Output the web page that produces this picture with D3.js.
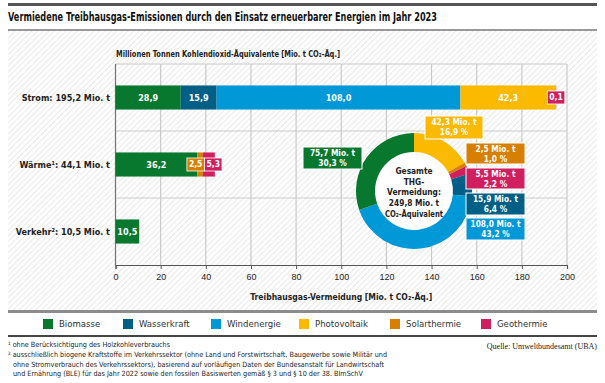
<!DOCTYPE html>
<html>
<head>
<meta charset="utf-8">
<script src="https://cdn.jsdelivr.net/npm/d3@7"></script>
<style>
	body { margin: 0; background: #fff; }
	svg { display: block; font-family: 'DejaVu Sans Condensed', 'DejaVu Sans', sans-serif; }
</style>
</head>
<body>
<div id="chart"></div>
<script>
const width = 605
const height = 383

// sectors (rows) and their totals as printed
const sectors = ['Strom', 'Wärme', 'Verkehr']
const sectorLabels = ['Strom: 195,2 Mio. t', 'Wärme¹: 44,1 Mio. t', 'Verkehr²: 10,5 Mio. t']

const sources = ['Biomasse', 'Wasserkraft', 'Windenergie', 'Photovoltaik', 'Solarthermie', 'Geothermie']
const sourceColors = ['#08782f', '#005f86', '#0098d6', '#fbb900', '#d67f00', '#cf1f5f']

// Mio. t CO2-Äq. per sector and source (same order as sources)
const strom = [28.9, 15.9, 108.0, 42.3, 0, 0.1]
const waerme = [36.2, 0, 0, 0, 2.5, 5.3]
const verkehr = [10.5, 0, 0, 0, 0, 0]

// donut: totals per source, in clockwise order from 12 o'clock
const donutOrder = ['Photovoltaik', 'Solarthermie', 'Geothermie', 'Wasserkraft', 'Windenergie', 'Biomasse']
const donutValues = [42.3, 2.5, 5.5, 15.9, 108.0, 75.7]
const donutTotal = 249.8

const xTicks = [0, 20, 40, 60, 80, 100, 120, 140, 160, 180, 200]

const footnotes = [
	'¹ ohne Berücksichtigung des Holzkohleverbrauchs',
	'² ausschließlich biogene Kraftstoffe im Verkehrssektor (ohne Land und Forstwirtschaft, Baugewerbe sowie Militär und',
	'ohne Stromverbrauch des Verkehrssektors), basierend auf vorläufigen Daten der Bundesanstalt für Landwirtschaft',
	'und Ernährung (BLE) für das Jahr 2022 sowie den fossilen Basiswerten gemäß § 3 und § 10 der 38. BImSchV'
]

const de = d3.formatLocale({ decimal: ',', thousands: '.', grouping: [3], currency: ['', ' €'] })
const f1 = de.format('.1f')
const color = d3.scaleOrdinal(sources, sourceColors)

// squeeze a text to a maximum width (the original uses a condensed face)
function fit(sel, w) {
	sel.each(function () {
		if (this.getComputedTextLength() > w)
			d3.select(this).attr('textLength', w).attr('lengthAdjust', 'spacingAndGlyphs')
	})
}

const svg = d3.select('#chart').append('svg').attr('width', width).attr('height', height)

// hatched background
const pat = svg.append('defs').append('pattern')
	.attr('id', 'hatch')
	.attr('patternUnits', 'userSpaceOnUse')
	.attr('width', 4).attr('height', 4)
	.attr('patternTransform', 'rotate(45)')
pat.append('rect').attr('width', 4).attr('height', 4).attr('fill', '#fff')
pat.append('line').attr('x1', 0).attr('y1', 0).attr('x2', 0).attr('y2', 4)
	.attr('stroke', '#e4e4e4').attr('stroke-width', 1.6)

svg.append('rect').attr('x', 8).attr('y', 31).attr('width', 589).attr('height', 280).attr('fill', 'url(#hatch)')

svg.append('line').attr('x1', 8).attr('x2', 597).attr('y1', 4.5).attr('y2', 4.5).attr('stroke', '#555').attr('stroke-width', 3)
svg.append('line').attr('x1', 8).attr('x2', 597).attr('y1', 30).attr('y2', 30).attr('stroke', '#999').attr('stroke-width', 2)
svg.append('line').attr('x1', 8).attr('x2', 597).attr('y1', 311.5).attr('y2', 311.5).attr('stroke', '#8c8c8c').attr('stroke-width', 3)
svg.append('line').attr('x1', 8).attr('x2', 597).attr('y1', 336).attr('y2', 336).attr('stroke', '#444').attr('stroke-width', 2)

svg.append('text').attr('x', 8).attr('y', 21)
	.attr('font-size', 12.5).attr('font-weight', 'bold').attr('fill', '#111')
	.text('Vermiedene Treibhausgas-Emissionen durch den Einsatz erneuerbarer Energien im Jahr 2023')
	.call(fit, 429)

svg.append('text').attr('x', 116).attr('y', 57)
	.attr('font-size', 8.8).attr('font-weight', 'bold').attr('fill', '#222')
	.text('Millionen Tonnen Kohlendioxid-Äquivalente [Mio. t CO₂-Äq.]')
	.call(fit, 224)

// scales
const x = d3.scaleLinear().domain([0, 200]).range([115.5, 567])
const y = d3.scaleBand().domain(sectors).range([64, 265])
const barH = y.bandwidth() * 0.36

const grid = svg.append('g')
grid.selectAll('line.v').data(xTicks).enter().append('line')
	.attr('x1', (d) => x(d)).attr('x2', (d) => x(d))
	.attr('y1', 64).attr('y2', 265)
	.attr('stroke', '#c9c9c9').attr('stroke-width', 1.2)
grid.selectAll('line.h').data(sectors).enter().append('line')
	.attr('x1', x(0)).attr('x2', x(200))
	.attr('y1', (d) => y(d)).attr('y2', (d) => y(d))
	.attr('stroke', '#c9c9c9').attr('stroke-width', 1.2)
svg.append('line').attr('x1', x(0)).attr('x2', x(0)).attr('y1', 64).attr('y2', 265)
	.attr('stroke', '#777').attr('stroke-width', 1.2)

const xAxis = svg.append('g')
	.attr('transform', 'translate(0,265)')
	.call(d3.axisBottom(x).tickValues(xTicks).tickSize(4).tickFormat(d3.format('d')))
xAxis.select('.domain').attr('stroke', '#555').attr('stroke-width', 1.2)
xAxis.selectAll('.tick line').attr('stroke', '#555')
xAxis.selectAll('.tick text').attr('font-size', 9).attr('fill', '#222').attr('dy', '0.9em')
	.attr('font-family', null)

svg.append('text').attr('x', (x(0) + x(200)) / 2).attr('y', 300)
	.attr('text-anchor', 'middle').attr('font-size', 9).attr('font-weight', 'bold').attr('fill', '#222')
	.text('Treibhausgas-Vermeidung [Mio. t CO₂-Äq.]')
	.call(fit, 182)

// row labels
svg.selectAll('text.row').data(sectors).enter().append('text')
	.attr('x', 110).attr('y', (d) => y(d) + y.bandwidth() / 2)
	.attr('dy', '0.35em').attr('text-anchor', 'end')
	.attr('font-size', 9).attr('font-weight', 'bold').attr('fill', '#222')
	.text((d, i) => sectorLabels[i])

// stacked bars
const rows = [strom, waerme, verkehr].map((vals, r) => {
	let acc = 0
	const segs = []
	vals.forEach((v, i) => {
		if (v > 0) segs.push({ source: sources[i], v, x0: acc, x1: (acc += v) })
	})
	return { sector: sectors[r], segs }
})
const isSmall = (s) => x(s.x1) - x(s.x0) < 18

const barG = svg.selectAll('g.bar').data(rows).enter().append('g')
	.attr('transform', (d) => 'translate(0,' + (y(d.sector) + (y.bandwidth() - barH) / 2) + ')')

barG.selectAll('rect').data((d) => d.segs).enter().append('rect')
	.attr('x', (d) => x(d.x0)).attr('width', (d) => x(d.x1) - x(d.x0))
	.attr('height', barH).attr('fill', (d) => color(d.source))

barG.selectAll('text.in').data((d) => d.segs.filter((s) => !isSmall(s))).enter().append('text')
	.attr('x', (d) => (x(d.x0) + x(d.x1)) / 2).attr('y', barH / 2).attr('dy', '0.35em')
	.attr('text-anchor', 'middle').attr('font-size', 9).attr('font-weight', 'bold').attr('fill', '#fff')
	.text((d) => f1(d.v))

// small segments: coloured label boxes, pushed apart when they overlap
barG.each(function (row) {
	const small = row.segs.filter(isSmall)
	if (!small.length) return
	const g = d3.select(this)
	const boxes = small.map((s) => {
		const t = g.append('text').attr('font-size', 8.5).attr('font-weight', 'bold').text(f1(s.v))
		const w = t.node().getComputedTextLength() + 4
		t.remove()
		return { s, w, c: (x(s.x0) + x(s.x1)) / 2 }
	})
	for (let i = 1; i < boxes.length; i++) {
		const a = boxes[i - 1]
		const b = boxes[i]
		const ov = a.c + a.w / 2 - (b.c - b.w / 2)
		if (ov > 0) {
			a.c -= ov / 2
			b.c += ov / 2
		}
	}
	boxes.forEach((b) => {
		g.append('rect').attr('x', b.c - b.w / 2).attr('y', barH / 2 - 6.5)
			.attr('width', b.w).attr('height', 13)
			.attr('fill', color(b.s.source)).attr('stroke', '#fff').attr('stroke-width', 0.8)
		g.append('text').attr('x', b.c).attr('y', barH / 2).attr('dy', '0.35em')
			.attr('text-anchor', 'middle').attr('font-size', 8.5).attr('font-weight', 'bold').attr('fill', '#fff')
			.text(f1(b.s.v))
	})
})

// donut
const cx = 414
const cy = 191
const pie = d3.pie().sort(null).value((d) => d.v)
const arcs = pie(donutOrder.map((s, i) => ({ source: s, v: donutValues[i] })))
const arc = d3.arc().innerRadius(39).outerRadius(58)
const donut = svg.append('g').attr('transform', 'translate(' + cx + ',' + cy + ')')
donut.append('circle').attr('r', 39).attr('fill', '#fff')
donut.selectAll('path').data(arcs).enter().append('path')
	.attr('d', arc).attr('fill', (d) => color(d.data.source))

const centerLines = ['Gesamte', 'THG-', 'Vermeidung:', f1(donutTotal) + ' Mio. t', 'CO₂-Äquivalent']
donut.selectAll('text').data(centerLines).enter().append('text')
	.attr('x', 0).attr('y', (d, i) => 1.5 + (i - 2) * 10.6).attr('dy', '0.35em')
	.attr('text-anchor', 'middle').attr('font-size', 8.3).attr('font-weight', 'bold').attr('fill', '#222')
	.text((d) => d)
	.call(fit, 58)

// donut callout boxes
const calloutPos = {
	Photovoltaik: [425, 116, 58, 23],
	Solarthermie: [466, 143, 59, 21],
	Geothermie: [466, 168, 59, 21],
	Wasserkraft: [466, 193, 59, 22],
	Windenergie: [466, 218, 59, 22],
	Biomasse: [303, 147, 59, 22]
}
const callouts = svg.selectAll('g.call').data(arcs).enter().append('g')
	.attr('transform', (d) => 'translate(' + calloutPos[d.data.source][0] + ',' + calloutPos[d.data.source][1] + ')')
callouts.append('rect')
	.attr('width', (d) => calloutPos[d.data.source][2]).attr('height', (d) => calloutPos[d.data.source][3])
	.attr('fill', (d) => color(d.data.source)).attr('stroke', '#fff').attr('stroke-width', 1)
callouts.append('text')
	.attr('x', (d) => calloutPos[d.data.source][2] / 2).attr('y', 9)
	.attr('text-anchor', 'middle').attr('font-size', 8.3).attr('font-weight', 'bold').attr('fill', '#fff')
	.text((d) => f1(d.data.v) + ' Mio. t')
	.call(fit, 50)
callouts.append('text')
	.attr('x', (d) => calloutPos[d.data.source][2] / 2).attr('y', 19)
	.attr('text-anchor', 'middle').attr('font-size', 8.3).attr('font-weight', 'bold').attr('fill', '#fff')
	.text((d) => f1((d.data.v / donutTotal) * 100) + ' %')

// legend
const legendX = [43, 123, 211, 299, 390, 481]
const legend = svg.append('g').attr('transform', 'translate(0,324)')
const item = legend.selectAll('g').data(sources).enter().append('g')
	.attr('transform', (d, i) => 'translate(' + legendX[i] + ',0)')
item.append('rect').attr('x', 0).attr('y', -5).attr('width', 10).attr('height', 10).attr('fill', (d) => color(d))
item.append('text').attr('x', 16).attr('y', 0).attr('dy', '0.35em')
	.attr('font-size', 9.5).attr('fill', '#333').text((d) => d)
	.call(fit, 58)

// footnotes
svg.selectAll('text.fn').data(footnotes).enter().append('text')
	.attr('x', (d, i) => (i < 2 ? 8 : 13)).attr('y', (d, i) => 347 + i * 9.8)
	.attr('font-size', 7.2).attr('fill', '#222').text((d) => d)
	.call(fit, 385)

svg.append('text').attr('x', 597).attr('y', 349).attr('text-anchor', 'end')
	.attr('font-family', "'Liberation Serif', serif").attr('font-size', 8).attr('fill', '#222')
	.text('Quelle: Umweltbundesamt (UBA)')
</script>
</body>
</html>
